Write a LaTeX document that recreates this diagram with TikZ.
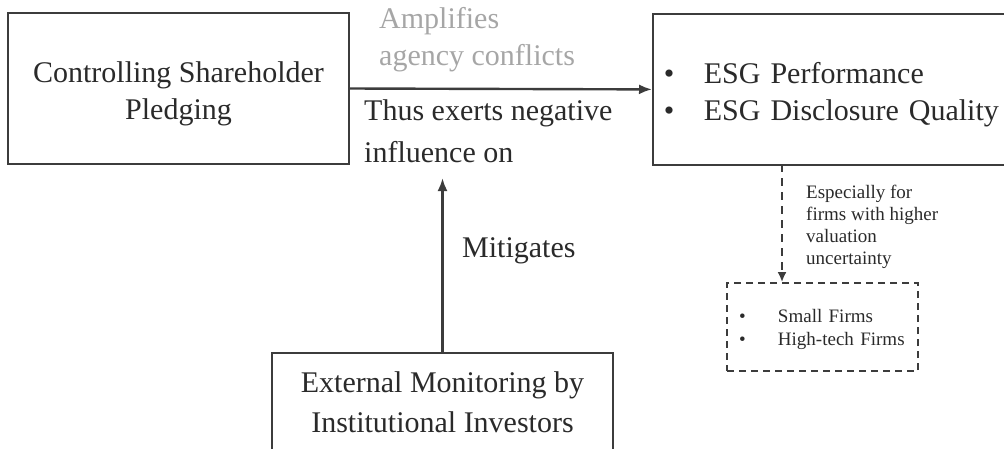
\documentclass[tikz,border=0pt]{standalone}
\usepackage{fontspec}
\setmainfont{Liberation Serif}
\usetikzlibrary{arrows.meta}
\definecolor{inkgray}{HTML}{2A2A2A}
\definecolor{linegray}{HTML}{3C3C3C}
\definecolor{softgray}{HTML}{A6A6A6}
\newcommand{\highstrut}{\rule{0pt}{31pt}}

\begin{document}
\begin{tikzpicture}[x=1pt,y=-1pt,
  box/.style={draw=linegray, line width=1.8pt, text=inkgray, inner sep=0pt,
    align=center, font=\fontsize{30}{37}\selectfont},
  dashbox/.style={draw=linegray, line width=1.8pt, dash pattern=on 7pt off 5pt,
    text=inkgray, align=left, font=\fontsize{19}{23}\selectfont},
  bigtext/.style={inner sep=0pt, align=left, anchor=west},
  arr/.style={draw=linegray, line width=2.4pt, -{Latex[length=13pt,width=10pt]}}]
\useasboundingbox (0,0) rectangle (1004,448);
% boxes
\node[box, minimum width=341pt, minimum height=151pt] (pledge) at (178.5,88.5)
  {\highstrut Controlling Shareholder\\Pledging};
\node[box, anchor=north west, align=left, inner xsep=11pt, text width=348pt,
  minimum height=151pt] (esg) at (652,13)
  {\highstrut\makebox[40pt][l]{\textbullet}ESG Performance\\
   \makebox[40pt][l]{\textbullet}ESG Disclosure Quality};
\node[box, font=\fontsize{30}{40}\selectfont, minimum width=341pt,
  minimum height=98pt] (monitor) at (442.5,402)
  {External Monitoring by\\Institutional Investors};
\node[dashbox, inner xsep=12pt, text width=167pt, minimum height=88pt] (firms)
  at (822.5,327)
  {\rule{0pt}{19pt}\makebox[39pt][l]{\textbullet}Small Firms\\
   \makebox[39pt][l]{\textbullet}High-tech Firms};
%
% labels
\node[bigtext, text=softgray, font=\fontsize{30}{37}\selectfont] (amplify)
  at (379,40) {Amplifies\\agency conflicts};
\node[bigtext, text=inkgray, font=\fontsize{30}{42}\selectfont] (thus)
  at (364,131) {Thus exerts negative\\influence on};
\node[bigtext, text=inkgray, font=\fontsize{30}{37}\selectfont] (mitigate)
  at (462,251) {Mitigates};
\node[bigtext, text=inkgray, font=\fontsize{19}{22}\selectfont] (especially)
  at (806,227) {Especially for\\firms with higher\\valuation\\uncertainty};
%
% connectors
\coordinate (mitend) at (442.5,178);
\coordinate (dtop) at (782,164);
\draw[arr] (pledge.east) -- (esg.west);
\draw[arr] (monitor.north) -- (mitend);
\draw[arr, line width=2.2pt, dash pattern=on 8pt off 6pt,
  -{Latex[length=10pt,width=9pt]}] (dtop) -- (dtop |- firms.north);
\end{tikzpicture}
\end{document}
